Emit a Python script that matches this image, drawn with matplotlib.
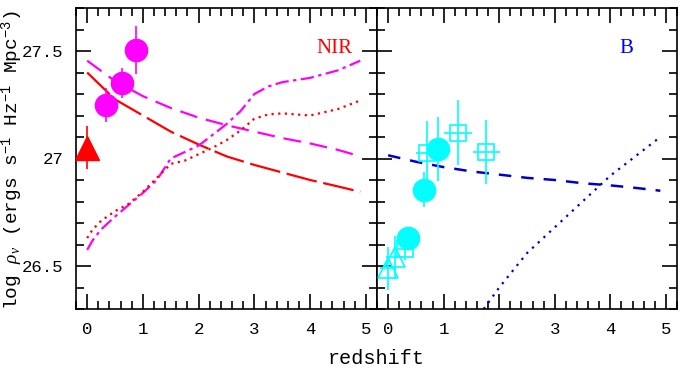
import matplotlib
matplotlib.use("Agg")
import matplotlib.pyplot as plt
from matplotlib.ticker import MultipleLocator

plt.rcParams['font.family'] = ['Liberation Mono', 'DejaVu Sans Mono']
plt.rcParams['mathtext.fontset'] = 'custom'
plt.rcParams['mathtext.rm'] = 'Liberation Mono'
plt.rcParams['mathtext.it'] = 'Liberation Serif:italic'

# ---------------- data: NIR panel ----------------
nir_tri_z = [0.0]
nir_tri_y = [27.05]
nir_tri_err = [0.1]

nir_circ_z = [0.34, 0.63, 0.88]
nir_circ_y = [27.25, 27.35, 27.505]
nir_circ_err = [0.08, 0.07, 0.11]

# magenta short-dash (decreasing)
mdash_z = [0.0, 0.5, 1.0, 1.5, 2.0, 2.5, 3.0, 3.5, 4.0, 4.5, 4.9]
mdash_y = [27.455, 27.36, 27.29, 27.235, 27.19, 27.155, 27.125, 27.095, 27.07, 27.04, 27.01]

# red long-dash (decreasing)
rdash_z = [0.0, 0.5, 1.0, 1.5, 2.0, 2.5, 3.0, 3.5, 4.0, 4.5, 4.9]
rdash_y = [27.40, 27.275, 27.20, 27.125, 27.065, 27.01, 26.97, 26.935, 26.90, 26.87, 26.845]

# magenta dash-dot (increasing)
mdd_z = [0.0, 0.1, 0.25, 0.5, 0.75, 1.0, 1.25, 1.5, 1.75, 2.0, 2.25, 2.5, 2.75, 3.0, 3.25, 3.5, 4.0, 4.5, 4.9]
mdd_y = [26.575, 26.62, 26.67, 26.73, 26.785, 26.84, 26.90, 27.0, 27.03, 27.06, 27.11, 27.16, 27.22, 27.30, 27.335, 27.355, 27.375, 27.41, 27.455]

# red dotted (increasing)
rdot_z = [0.0, 0.1, 0.25, 0.5, 0.75, 1.0, 1.25, 1.5, 1.75, 2.0, 2.25, 2.5, 2.75, 3.0, 3.25, 3.5, 4.0, 4.5, 4.9]
rdot_y = [26.63, 26.67, 26.71, 26.755, 26.79, 26.845, 26.91, 26.975, 26.99, 27.02, 27.05, 27.085, 27.13, 27.185, 27.205, 27.21, 27.20, 27.23, 27.27]

# ---------------- data: B panel ----------------
b_circ_z = [0.35, 0.64, 0.89]
b_circ_y = [26.63, 26.855, 27.045]
b_circ_err = [0.05, 0.08, 0.15]

b_sq_z = [0.30, 0.70, 1.26, 1.77]
b_sq_y = [26.58, 27.025, 27.12, 27.03]
b_sq_xerr = [0.12, 0.2, 0.25, 0.25]
b_sq_yerr = [0.05, 0.15, 0.15, 0.15]

b_tri_z = [0.0, 0.12]
b_tri_y = [26.49, 26.54]
b_tri_xerr = [0.15, 0.15]
b_tri_yerr = [0.1, 0.1]

bdash_z = [0.0, 0.5, 1.0, 1.5, 2.0, 2.5, 3.0, 3.5, 4.0, 4.5, 4.9]
bdash_y = [27.015, 26.985, 26.96, 26.94, 26.925, 26.91, 26.90, 26.885, 26.875, 26.862, 26.85]

bdot_z = [1.72, 2.0, 2.5, 3.0, 3.5, 4.0, 4.5, 4.9]
bdot_y = [26.30, 26.40, 26.56, 26.68, 26.80, 26.92, 27.02, 27.10]

xticks = [0, 1, 2, 3, 4, 5]
yticks = [26.5, 27.0, 27.5]
ytick_labels = ['26.5', '27', '27.5']

RED = '#ff0000'
MAG = '#ff00ff'
CYAN = '#00ffff'
BLUE = '#0000cc'

fig = plt.figure(figsize=(6.83, 3.75), dpi=100)
W, H = 683, 375
axL = fig.add_axes([76 / W, 1 - 309 / H, (377 - 76) / W, (309 - 8) / H])
axR = fig.add_axes([377 / W, 1 - 309 / H, (677 - 377) / W, (309 - 8) / H])

for ax in (axL, axR):
    ax.set_xlim(-0.2, 5.2)
    ax.set_ylim(26.3, 27.7)
    ax.xaxis.set_major_locator(MultipleLocator(1))
    ax.xaxis.set_minor_locator(MultipleLocator(0.2))
    ax.yaxis.set_major_locator(MultipleLocator(0.5))
    ax.yaxis.set_minor_locator(MultipleLocator(0.1))
    ax.tick_params(which='both', direction='in', top=True, right=True, width=1.2, colors='black')
    ax.tick_params(which='major', length=11)
    ax.tick_params(which='minor', length=5.5)
    ax.tick_params(axis='x', labelsize=12.5, pad=9)
    ax.set_xticks(xticks)
    ax.set_xticklabels([str(t) for t in xticks])
    for s in ax.spines.values():
        s.set_linewidth(1.2)

axL.set_yticks(yticks)
axL.set_yticklabels(ytick_labels)
axL.tick_params(axis='y', labelsize=12.5, pad=9)
axR.set_yticklabels([])

# NIR panel
axL.plot(mdash_z, mdash_y, color=MAG, lw=1.6, dashes=(8, 4))
axL.plot(rdash_z, rdash_y, color=RED, lw=1.6, dashes=(14, 3))
axL.plot(mdd_z, mdd_y, color=MAG, lw=1.6, dashes=(6, 2, 1.5, 2))
axL.plot(rdot_z, rdot_y, color=RED, lw=1.6, dashes=(1, 2))
axL.errorbar(nir_tri_z, nir_tri_y, yerr=nir_tri_err, fmt='^', color=RED, ms=17,
             ecolor=RED, elinewidth=1.2, capsize=0, zorder=5)
axL.errorbar(nir_circ_z, nir_circ_y, yerr=nir_circ_err, fmt='o', color=MAG, ms=16,
             ecolor=MAG, elinewidth=1.2, capsize=0, zorder=5)
axL.text(0.86, 0.865, 'NIR', transform=axL.transAxes, color=RED, fontsize=15,
         family='Liberation Serif', ha='center', va='center')

# B panel
axR.plot(bdash_z, bdash_y, color=BLUE, lw=1.8, dashes=(5, 4))
axR.plot(bdot_z, bdot_y, color=BLUE, lw=1.6, dashes=(1, 2.5))
axR.errorbar(b_tri_z, b_tri_y, xerr=b_tri_xerr, yerr=b_tri_yerr, fmt='^', mfc='none',
             mec=CYAN, ms=14, mew=1.2, ecolor=CYAN, elinewidth=1.2, capsize=0, zorder=4)
axR.errorbar(b_sq_z, b_sq_y, xerr=b_sq_xerr, yerr=b_sq_yerr, fmt='s', mfc='none',
             mec=CYAN, ms=12, mew=1.2, ecolor=CYAN, elinewidth=1.2, capsize=0, zorder=4)
axR.errorbar(b_circ_z, b_circ_y, yerr=b_circ_err, fmt='o', color=CYAN, ms=16,
             ecolor=CYAN, elinewidth=1.2, capsize=0, zorder=5)
axR.text(0.83, 0.865, 'B', transform=axR.transAxes, color='#0000ff', fontsize=15,
         family='Liberation Serif', ha='center', va='center')

fig.text(376 / W, 1 - 358 / H, 'redshift', ha='center', va='center', fontsize=14.5)
fig.text(12 / W, 1 - 160 / H,
         r'log $\rho_\nu$ (ergs s$^{-1}$ Hz$^{-1}$ Mpc$^{-3}$)',
         rotation=90, ha='center', va='center', fontsize=14)

fig.savefig('out.png', dpi=100)
